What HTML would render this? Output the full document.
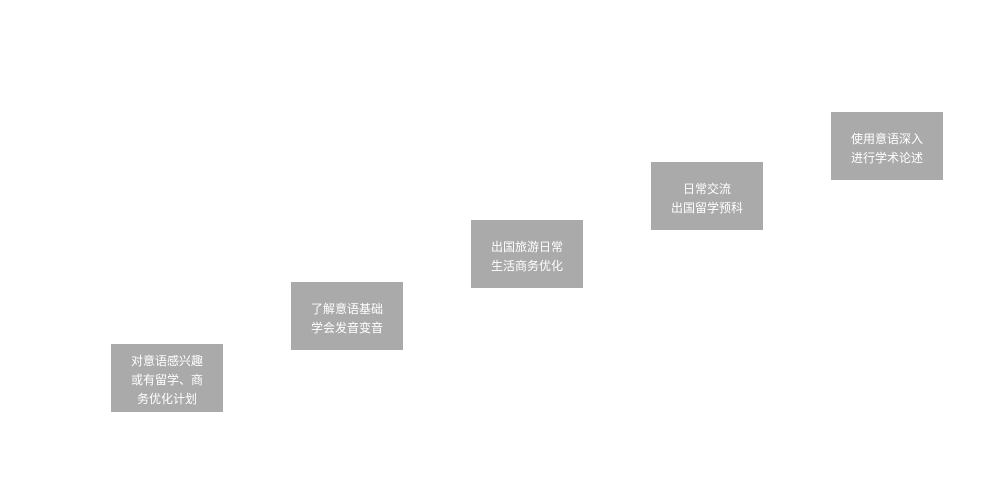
<!DOCTYPE html>
<html><head><meta charset="utf-8"><style>
body{margin:0;width:982px;height:492px;background:#fff;position:relative;overflow:hidden;font-family:"Liberation Sans","Noto Sans CJK SC",sans-serif;}
.b{position:absolute;box-sizing:border-box;padding-top:5px;width:112px;height:68px;background:#aaaaaa;color:#fff;font-size:12px;line-height:19px;text-align:center;display:flex;align-items:center;justify-content:center;}
</style></head><body>
<div class="b" style="left:111px;top:344px">对意语感兴趣<br>或有留学、商<br>务优化计划</div>
<div class="b" style="left:291px;top:282px">了解意语基础<br>学会发音变音</div>
<div class="b" style="left:471px;top:220px">出国旅游日常<br>生活商务优化</div>
<div class="b" style="left:651px;top:162px">日常交流<br>出国留学预科</div>
<div class="b" style="left:831px;top:112px">使用意语深入<br>进行学术论述</div>
</body></html>
